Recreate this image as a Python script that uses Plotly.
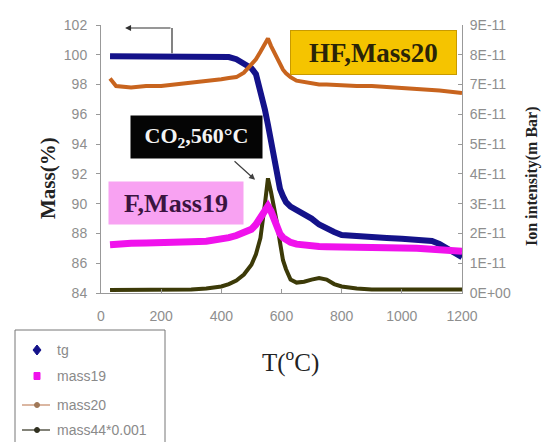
import plotly.graph_objects as go

# Temperature grid (°C)
temperature = [30, 50, 100, 150, 200, 250, 300, 350, 400, 425, 450, 475, 500, 515, 530,
               545, 555, 565, 575, 585, 595, 605, 615, 630, 650, 675, 700, 725, 750, 775,
               800, 850, 900, 950, 1000, 1050, 1100, 1125, 1150, 1175, 1200]

# Thermogravimetric mass (%)
tg = [99.9, 99.9, 99.9, 99.9, 99.9, 99.9, 99.9, 99.9, 99.88, 99.85, 99.7, 99.45, 99.1, 98.7, 97.6,
      96.3, 95.3, 94.1, 92.9, 91.8, 91.0, 90.5, 90.1, 89.8, 89.6, 89.35, 89.0, 88.6, 88.3, 88.1,
      87.9, 87.8, 87.75, 87.7, 87.65, 87.6, 87.5, 87.3, 87.0, 86.7, 86.4]

# Ion intensities (x1E-11 m Bar)
mass19 = [1.62, 1.65, 1.67, 1.68, 1.68, 1.70, 1.72, 1.74, 1.80, 1.86, 1.93, 2.02, 2.14, 2.30, 2.52,
          2.80, 2.92, 2.75, 2.45, 2.15, 1.98, 1.86, 1.78, 1.70, 1.64, 1.60, 1.57, 1.56, 1.55, 1.55,
          1.54, 1.53, 1.53, 1.53, 1.52, 1.50, 1.47, 1.45, 1.43, 1.42, 1.40]
mass20 = [7.20, 6.95, 6.90, 6.95, 6.95, 7.00, 7.05, 7.10, 7.18, 7.22, 7.25, 7.40, 7.68, 7.85, 8.10,
          8.40, 8.55, 8.30, 8.10, 7.85, 7.65, 7.50, 7.38, 7.25, 7.13, 7.08, 7.05, 7.00, 7.00, 6.98,
          6.96, 6.95, 6.95, 6.92, 6.90, 6.88, 6.82, 6.80, 6.78, 6.75, 6.72]
mass44 = [0.10, 0.10, 0.10, 0.10, 0.10, 0.10, 0.12, 0.15, 0.22, 0.30, 0.42, 0.62, 0.95, 1.30, 1.85,
          3.00, 3.85, 3.40, 2.90, 2.35, 1.70, 1.10, 0.80, 0.45, 0.35, 0.38, 0.45, 0.50, 0.45, 0.30,
          0.22, 0.15, 0.12, 0.12, 0.12, 0.12, 0.12, 0.12, 0.12, 0.12, 0.12]

series_names = ["tg", "mass19", "mass20", "mass44*0.001"]

scale = 1e-11
ion_ticks = [i * scale for i in range(10)]
ion_ticktext = ["0E+00"] + [f"{i}E-11" for i in range(1, 10)]
mass_ticks = list(range(84, 103, 2))
x_ticks = list(range(0, 1201, 200))

NAVY = "#14128a"
MAGENTA = "#f012ec"
ORANGE = "#c8641e"
OLIVE = "#3c3a08"

W, H = 548, 442
L, R, T, B = 101, 86, 25, 149
PW, PH = W - L - R, H - T - B


def px(xp):
    return (xp - L) / PW


def py(yp):
    return (H - B - yp) / PH


fig = go.Figure()

fig.add_trace(go.Scatter(x=temperature, y=[v * scale for v in mass44], yaxis="y2",
                         name=series_names[3], mode="lines",
                         line=dict(color=OLIVE, width=4)))
fig.add_trace(go.Scatter(x=temperature, y=[v * scale for v in mass20], yaxis="y2",
                         name=series_names[2], mode="lines",
                         line=dict(color=ORANGE, width=4)))
fig.add_trace(go.Scatter(x=temperature, y=[v * scale for v in mass19], yaxis="y2",
                         name=series_names[1], mode="lines",
                         line=dict(color=MAGENTA, width=7)))
fig.add_trace(go.Scatter(x=temperature, y=tg, yaxis="y",
                         name=series_names[0], mode="lines",
                         line=dict(color=NAVY, width=6)))

serif = "Liberation Serif"
tick_font = dict(family="Liberation Sans", size=14, color="#8e8e8e")
legend_font = dict(family="Liberation Sans", size=14, color="#8a8a8a")

annotations = [
    dict(text="<b>HF,Mass20</b>", x=px(373), y=py(52), xref="paper", yref="paper",
         xanchor="center", yanchor="middle",
         showarrow=False, font=dict(family=serif, size=27, color="#2a2408"),
         bgcolor="#f5c400", bordercolor="#c89a00", borderwidth=1, borderpad=0,
         width=165, height=43),
    dict(text="<b>CO<sub>2</sub>,560°C</b>", x=px(196), y=py(137), xref="paper", yref="paper",
         xanchor="center", yanchor="middle",
         showarrow=False, font=dict(family=serif, size=22, color="#f4f4f4"),
         bgcolor="#050505", borderpad=0, width=131, height=42),
    dict(text="<b>F,Mass19</b>", x=px(176), y=py(203), xref="paper", yref="paper",
         xanchor="center", yanchor="middle",
         showarrow=False, font=dict(family=serif, size=26, color="#3a1440"),
         bgcolor="#f8a2f2", borderpad=0, width=134, height=42),
    # arrow pointing at the CO2 peak
    dict(text="", x=512, y=91.6, xref="x", yref="y", ax=-22, ay=-20,
         showarrow=True, arrowhead=2, arrowsize=1, arrowwidth=1.2, arrowcolor="#404040"),
    # arrow from the tg curve to the left axis
    dict(text="", x=80, y=101.8, xref="x", yref="y", ax=236, ay=101.8, axref="x", ayref="y",
         showarrow=True, arrowhead=2, arrowsize=1, arrowwidth=1.2, arrowcolor="#303030"),
    # axis titles
    dict(text="<b>Mass(%)</b>", x=px(48), y=py(178), xref="paper", yref="paper",
         xanchor="center", yanchor="middle", textangle=-90,
         showarrow=False, font=dict(family=serif, size=21, color="#222222")),
    dict(text="<b>Ion intensity(m Bar)</b>", x=px(532), y=py(176), xref="paper", yref="paper",
         xanchor="center", yanchor="middle", textangle=-90,
         showarrow=False, font=dict(family=serif, size=16, color="#222222")),
    dict(text="T(<sup>o</sup>C)", x=px(290), y=py(360), xref="paper", yref="paper",
         xanchor="center", yanchor="middle",
         showarrow=False, font=dict(family=serif, size=25, color="#222222")),
]

shapes = [
    dict(type="line", xref="x", yref="y", x0=236, x1=236, y0=101.8, y1=100.1,
         line=dict(color="#303030", width=1.2)),
    # legend frame
    dict(type="rect", xref="paper", yref="paper", x0=px(15), x1=px(165), y0=py(330), y1=py(452),
         line=dict(color="#777777", width=1), fillcolor="white", layer="above"),
]

# legend keys: symbol drawn at (37, row_y), label starting at x=55
legend_rows = [350, 376, 405, 430]
for name, row in zip(series_names, legend_rows):
    annotations.append(dict(text=name, x=px(55), y=py(row), xref="paper", yref="paper",
                            xanchor="left", yanchor="middle", showarrow=False,
                            font=legend_font))

cx = 37
# tg: diamond
r0 = legend_rows[0]
shapes.append(dict(type="path", xref="paper", yref="paper", layer="above",
                   path=f"M {px(cx)},{py(r0 - 5)} L {px(cx + 4)},{py(r0)} L {px(cx)},{py(r0 + 5)} "
                        f"L {px(cx - 4)},{py(r0)} Z",
                   fillcolor=NAVY, line=dict(color=NAVY, width=1)))
# mass19: square
r1 = legend_rows[1]
shapes.append(dict(type="rect", xref="paper", yref="paper", layer="above",
                   x0=px(cx - 3), x1=px(cx + 3), y0=py(r1 - 3.5), y1=py(r1 + 3.5),
                   fillcolor=MAGENTA, line=dict(color=MAGENTA, width=1)))
# mass20 and mass44: line with a dot
for row, lc, mc in [(legend_rows[2], "#c89070", "#a07858"), (legend_rows[3], "#404030", "#303020")]:
    shapes.append(dict(type="line", xref="paper", yref="paper", layer="above",
                       x0=px(22), x1=px(50), y0=py(row), y1=py(row),
                       line=dict(color=lc, width=1.3)))
    shapes.append(dict(type="circle", xref="paper", yref="paper", layer="above",
                       x0=px(cx - 2.5), x1=px(cx + 2.5), y0=py(row - 2.5), y1=py(row + 2.5),
                       fillcolor=mc, line=dict(color=mc, width=1)))

fig.update_layout(
    width=W, height=H,
    margin=dict(l=L, r=R, t=T, b=B),
    paper_bgcolor="white", plot_bgcolor="white",
    showlegend=False,
    xaxis=dict(range=[0, 1200], tickvals=x_ticks, ticks="inside", ticklen=4,
               tickcolor="#999999", showline=True, linecolor="#999999", linewidth=1,
               showgrid=False, zeroline=False, tickfont=tick_font, ticklabelstandoff=10),
    yaxis=dict(range=[84, 102], tickvals=mass_ticks, ticks="outside", ticklen=4,
               tickcolor="#999999", showline=True, linecolor="#999999", linewidth=1,
               showgrid=False, zeroline=False, tickfont=tick_font, ticklabelstandoff=6),
    yaxis2=dict(range=[0, 9e-11], tickvals=ion_ticks, ticktext=ion_ticktext,
                overlaying="y", side="right", ticks="inside", ticklen=4,
                tickcolor="#999999", showline=True, linecolor="#999999", linewidth=1,
                showgrid=False, zeroline=False, tickfont=tick_font, ticklabelstandoff=4),
    annotations=annotations,
    shapes=shapes,
)

fig.write_html("out.html")
